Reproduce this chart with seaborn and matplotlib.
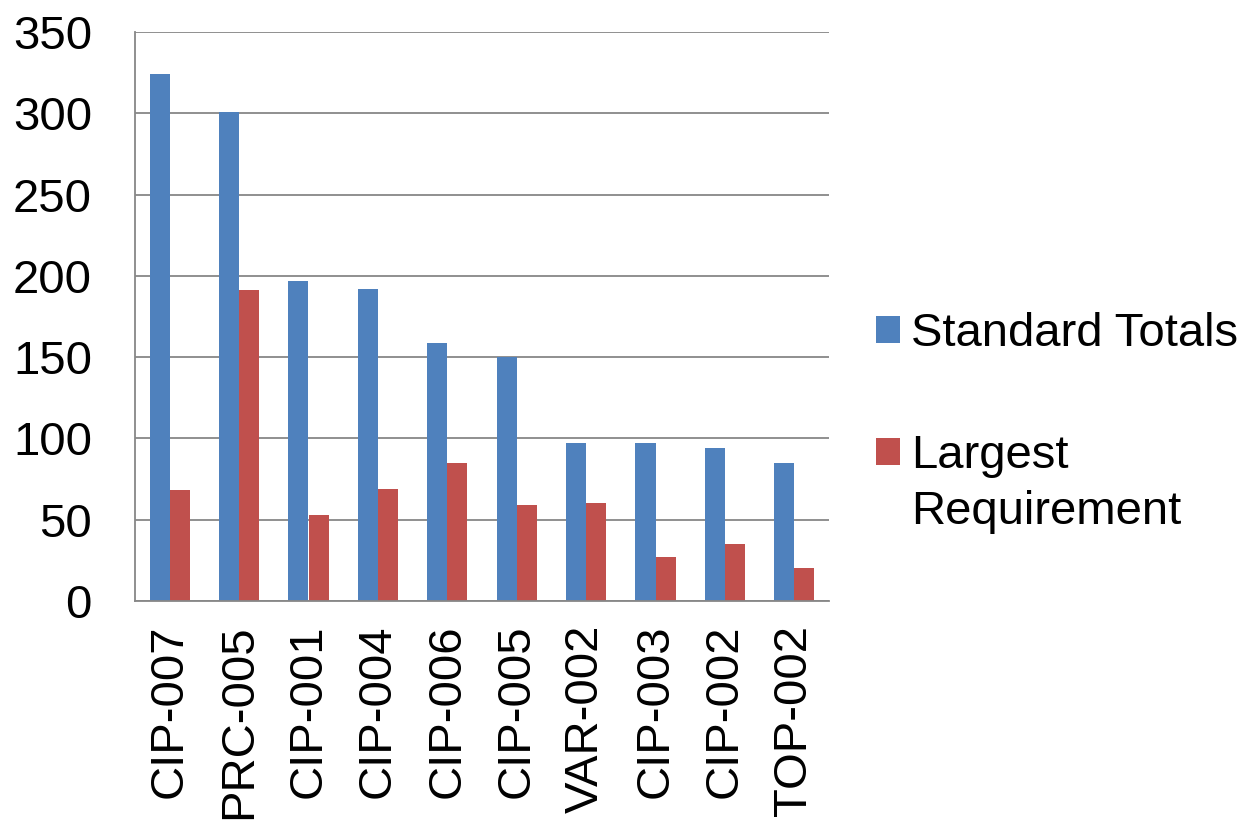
import pandas as pd
import matplotlib
matplotlib.use("Agg")
import matplotlib.pyplot as plt
import seaborn as sns

# Data
standards = ["CIP-007", "PRC-005", "CIP-001", "CIP-004", "CIP-006",
             "CIP-005", "VAR-002", "CIP-003", "CIP-002", "TOP-002"]
standard_totals = [324, 301, 197, 192, 159, 150, 97, 97, 94, 85]
largest_requirement = [68, 191, 53, 69, 85, 59, 60, 27, 35, 20]
series_names = ["Standard Totals", "Largest Requirement"]
y_ticks = [0, 50, 100, 150, 200, 250, 300, 350]

df = pd.DataFrame({
    "standard": standards * 2,
    "value": standard_totals + largest_requirement,
    "series": [series_names[0]] * len(standards) + [series_names[1]] * len(standards),
})

sns.set_style("white")
plt.rcParams["font.family"] = ["Liberation Sans", "DejaVu Sans"]
plt.rcParams["text.color"] = "black"

FS = 34
grid_col = "#878787"
fig = plt.figure(figsize=(12.54, 8.23), dpi=100)
ax = fig.add_axes([135 / 1254, 1 - 601 / 823, 694 / 1254, 569 / 823])

sns.barplot(data=df, x="standard", y="value", hue="series",
            palette=["#4F81BD", "#C0504D"], width=0.58, ax=ax,
            saturation=1, edgecolor="none")

ax.set_ylim(0, 350)
ax.set_xlim(-0.5, len(standards) - 0.5)
ax.set_yticks(y_ticks)
ax.yaxis.grid(True, color=grid_col, linewidth=1.3)
ax.set_axisbelow(True)
ax.set_xlabel("")
ax.set_ylabel("")

for side in ["top", "right"]:
    ax.spines[side].set_visible(False)
for side in ["left", "bottom"]:
    ax.spines[side].set_color(grid_col)
    ax.spines[side].set_linewidth(1.3)

# category separators as x ticks
ax.set_xticks([i - 0.5 for i in range(len(standards) + 1)], minor=True)
ax.set_xticks(range(len(standards)))
ax.set_xticklabels(standards, rotation=90, fontsize=FS)
ax.tick_params(axis="x", which="major", length=0, pad=17, labelcolor="black")
ax.tick_params(axis="x", which="minor", length=10, width=1.3, color=grid_col, direction="out")
ax.tick_params(axis="y", length=10, width=1.3, color=grid_col, direction="out",
               labelsize=FS, pad=21, labelcolor="black")

# legend: second label wraps with the marker on its first line
handles, labels = ax.get_legend_handles_labels()
ax.legend_.remove()
leg = fig.legend(handles, ["Standard Totals", "Largest"], loc="upper left",
                 bbox_to_anchor=(876 / 1254, 1 - 312 / 823),
                 frameon=False, fontsize=FS, handlelength=0.51, handleheight=0.51,
                 handletextpad=0.24, labelspacing=1.66, borderaxespad=0, borderpad=0)

fig.canvas.draw()
bb = leg.texts[1].get_window_extent()
fig.text(bb.x0 / 1254, (bb.y0 - 56) / 823, "Requirement", fontsize=FS,
         color="black", va="bottom", ha="left")

fig.savefig("out.png", dpi=100)
